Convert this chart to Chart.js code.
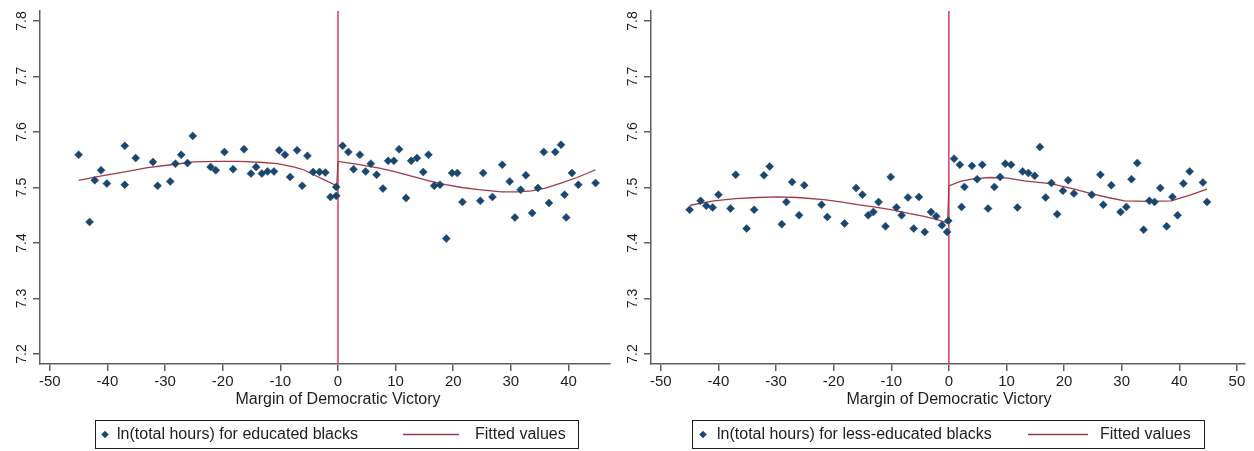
<!DOCTYPE html>
<html>
<head>
<meta charset="utf-8">
<script src="https://cdn.jsdelivr.net/npm/chart.js@4/dist/chart.umd.min.js"></script>
<style>
  html, body { margin: 0; padding: 0; background: #ffffff; }
  #wrap { position: relative; width: 1254px; height: 451px; background: #ffffff; }
  .panel { position: absolute; top: 0; width: 627px; height: 451px; }
</style>
</head>
<body>
<div id="wrap">
  <div class="panel" style="left:0px"><canvas id="c1"></canvas></div>
  <div class="panel" style="left:627px"><canvas id="c2"></canvas></div>
</div>
<script>
// ---------- DATA ----------
// Left panel: educated blacks (binned means)
const eduX = [-45.0,-43.1,-42.2,-41.1,-40.1,-37.0,-37.0,-35.1,-32.1,-31.3,-29.1,-28.2,-27.2,-26.1,-25.2,-22.1,-21.2,-19.7,-18.2,-16.3,-15.1,-14.2,-13.2,-12.2,-11.1,-10.2,-9.2,-8.3,-7.1,-6.2,-5.3,-4.3,-3.2,-2.2,-1.3,-0.3,-0.3,
  0.8,1.8,2.7,3.8,4.8,5.7,6.7,7.8,8.7,9.7,10.6,11.8,12.7,13.7,14.8,15.7,16.7,17.7,18.8,19.8,20.7,21.6,24.7,25.2,26.8,28.5,29.8,30.7,31.7,32.6,33.7,34.7,35.7,36.6,37.7,38.7,39.3,39.6,40.6,41.7,44.7];
const eduY = [7.559,7.438,7.513,7.531,7.507,7.575,7.505,7.553,7.546,7.503,7.511,7.543,7.559,7.544,7.593,7.537,7.531,7.564,7.533,7.569,7.525,7.537,7.525,7.529,7.529,7.567,7.559,7.519,7.567,7.503,7.557,7.528,7.528,7.527,7.483,7.485,7.501,
  7.575,7.564,7.533,7.559,7.529,7.543,7.523,7.498,7.548,7.548,7.569,7.481,7.548,7.553,7.528,7.559,7.503,7.505,7.408,7.526,7.526,7.474,7.476,7.526,7.483,7.541,7.511,7.446,7.496,7.522,7.454,7.499,7.564,7.472,7.564,7.577,7.487,7.446,7.526,7.505,7.508];
const eduFitX = [-45.0,-41,-37,-33,-29,-25,-21,-17,-13,-10.5,-7.7,-6,-4.2,-2,-0.2,0,3.2,7.2,10,12.9,15.8,18.7,21.5,24.4,28.4,31,33.6,36,38.7,41.5,44.7];
const eduFitY = [7.513,7.521,7.528,7.536,7.541,7.546,7.547,7.547,7.545,7.543,7.537,7.532,7.523,7.512,7.503,7.547,7.542,7.535,7.528,7.520,7.512,7.505,7.500,7.496,7.492,7.492,7.494,7.499,7.508,7.518,7.532];

// Right panel: less-educated blacks
const lessX = [-45.0,-43.1,-42.1,-41.0,-40.0,-37.9,-37.0,-35.1,-33.8,-32.1,-31.1,-29.0,-28.2,-27.2,-26.0,-25.1,-22.1,-21.1,-18.1,-16.1,-15.0,-14.0,-13.1,-12.2,-11.0,-10.1,-9.1,-8.2,-7.1,-6.1,-5.2,-4.2,-3.1,-2.2,-1.2,-0.3,-0.1,
  0.9,1.9,2.2,2.7,4.0,4.9,5.8,6.8,7.9,8.9,9.8,10.8,11.9,12.8,13.8,14.9,15.8,16.8,17.8,18.8,19.8,20.7,21.7,24.8,26.3,26.8,28.2,29.8,30.8,31.7,32.7,33.8,34.8,35.7,36.7,37.8,38.8,39.7,40.7,41.8,44.1,44.8];
const lessY = [7.460,7.476,7.467,7.464,7.487,7.462,7.523,7.426,7.460,7.522,7.538,7.434,7.474,7.510,7.450,7.504,7.469,7.447,7.435,7.499,7.487,7.450,7.456,7.474,7.430,7.519,7.464,7.450,7.482,7.426,7.483,7.420,7.456,7.448,7.432,7.420,7.440,
  7.552,7.541,7.465,7.501,7.539,7.515,7.541,7.462,7.501,7.519,7.543,7.541,7.464,7.529,7.526,7.521,7.573,7.482,7.508,7.452,7.494,7.513,7.489,7.487,7.523,7.469,7.504,7.456,7.465,7.515,7.544,7.424,7.476,7.474,7.499,7.430,7.483,7.450,7.507,7.529,7.509,7.474];
const lessFitX = [-44.9,-40.8,-37,-33.3,-29.8,-26.3,-21.7,-18.8,-15.9,-13,-10.1,-7.2,-4.3,-2,-0.2,0,2.0,4.4,7.3,10.2,13.1,17.7,21.8,24.7,27.6,30.5,34.6,38.6,42.1,44.8];
const lessFitY = [7.468,7.476,7.480,7.482,7.483,7.482,7.478,7.474,7.469,7.465,7.460,7.454,7.448,7.442,7.436,7.503,7.511,7.516,7.518,7.517,7.512,7.507,7.497,7.489,7.482,7.476,7.475,7.476,7.487,7.497];

const xTitle = 'Margin of Democratic Victory';
const eduLabel = 'ln(total hours) for educated blacks';
const lessLabel = 'ln(total hours) for less-educated blacks';
const fitLabel = 'Fitted values';

// ---------- STYLE ----------
const FONT = "'Liberation Sans', Arial, sans-serif";
const NAVY = '#1a476f';
const MAROON = '#a03a48';
const VLINE = '#d8486e';
const AXIS = '#5f5f5f';
const TEXT = '#1e1e1e';

function pairs(xs, ys) { return xs.map((x, i) => ({ x: x, y: ys[i] })); }

function makeChart(canvasId, cfg) {
  const extras = {
    id: 'extras' + canvasId,
    beforeDatasetsDraw(chart) {
      const { ctx, chartArea, scales } = chart;
      const px = scales.x.getPixelForValue(0);
      ctx.save();
      ctx.strokeStyle = VLINE;
      ctx.lineWidth = 1.6;
      ctx.beginPath();
      ctx.moveTo(px, chartArea.top);
      ctx.lineTo(px, chartArea.bottom);
      ctx.stroke();
      ctx.restore();
    },
    afterDraw(chart) {
      const { ctx, scales } = chart;
      const ys = scales.y;
      ctx.save();
      ctx.fillStyle = TEXT;
      ctx.font = '14px ' + FONT;
      ctx.textAlign = 'center';
      ctx.textBaseline = 'middle';
      ys.ticks.forEach(t => {
        const py = ys.getPixelForValue(t.value);
        ctx.save();
        ctx.translate(cfg.axisLeft - 18, py);
        ctx.rotate(-Math.PI / 2);
        ctx.fillText(t.value.toFixed(1), 0, 0);
        ctx.restore();
      });
      // x-axis title
      ctx.font = '16px ' + FONT;
      ctx.fillText(xTitle, cfg.titleX, 400);
      // legend box
      const lg = cfg.legend;
      ctx.strokeStyle = '#1e1e1e';
      ctx.lineWidth = 1;
      ctx.strokeRect(lg.boxL + 0.5, 420.5, lg.boxR - lg.boxL, 28);
      const cy = 434.5;
      ctx.fillStyle = NAVY;
      ctx.beginPath();
      ctx.moveTo(lg.diamond, cy - 3.8);
      ctx.lineTo(lg.diamond + 3.8, cy);
      ctx.lineTo(lg.diamond, cy + 3.8);
      ctx.lineTo(lg.diamond - 3.8, cy);
      ctx.closePath();
      ctx.fill();
      ctx.fillStyle = TEXT;
      ctx.font = '16px ' + FONT;
      ctx.textAlign = 'left';
      ctx.textBaseline = 'middle';
      ctx.fillText(lg.label1, lg.text1, cy);
      ctx.strokeStyle = MAROON;
      ctx.lineWidth = 1.4;
      ctx.beginPath();
      ctx.moveTo(lg.line1, cy);
      ctx.lineTo(lg.line2, cy);
      ctx.stroke();
      ctx.fillText(fitLabel, lg.text2, cy);
      ctx.restore();
    }
  };

  const gridOpts = { display: true, drawOnChartArea: false, drawTicks: true, tickLength: 7, color: AXIS, lineWidth: 1.5 };
  const borderOpts = { display: true, color: AXIS, width: 1.5 };

  return new Chart(document.getElementById(canvasId), {
    type: 'scatter',
    data: {
      datasets: [
        {
          label: cfg.legend.label1,
          data: pairs(cfg.px, cfg.py),
          pointStyle: 'rectRot',
          pointRadius: 4,
          pointHoverRadius: 4,
          backgroundColor: NAVY,
          borderColor: NAVY,
          borderWidth: 0.5,
          showLine: false,
          order: 1
        },
        {
          label: fitLabel,
          data: pairs(cfg.fx, cfg.fy),
          type: 'line',
          showLine: true,
          borderColor: MAROON,
          borderWidth: 1.3,
          pointRadius: 0,
          fill: false,
          tension: 0,
          order: 2
        }
      ]
    },
    options: {
      responsive: true,
      maintainAspectRatio: false,
      animation: false,
      events: [],
      layout: { padding: { left: 0, right: cfg.padRight, top: 11, bottom: 41 } },
      plugins: { legend: { display: false }, tooltip: { enabled: false } },
      scales: {
        x: {
          type: 'linear',
          min: cfg.xMin,
          max: cfg.xMax,
          afterFit: s => { s.height = 46; },
          ticks: { stepSize: 10, includeBounds: false, autoSkip: false, maxRotation: 0, minRotation: 0,
                   font: { family: FONT, size: 15 }, color: TEXT, padding: 2 },
          grid: gridOpts,
          border: borderOpts,
          title: { display: false }
        },
        y: {
          type: 'linear',
          min: 7.182,
          max: 7.818,
          afterFit: s => { s.width = cfg.axisLeft; },
          ticks: { stepSize: 0.1, includeBounds: false, display: false },
          grid: gridOpts,
          border: borderOpts
        }
      }
    },
    plugins: [extras]
  });
}

makeChart('c1', {
  px: eduX, py: eduY, fx: eduFitX, fy: eduFitY,
  xMin: -51.7, xMax: 47.2, axisLeft: 40, padRight: 17, titleX: 338,
  legend: { boxL: 95, boxR: 578, diamond: 105, text1: 117, label1: eduLabel, line1: 403, line2: 459, text2: 475 }
});
makeChart('c2', {
  px: lessX, py: lessY, fx: lessFitX, fy: lessFitY,
  xMin: -51.7, xMax: 51.4, axisLeft: 24, padRight: 9, titleX: 322,
  legend: { boxL: 65, boxR: 577, diamond: 76, text1: 90, label1: lessLabel, line1: 401, line2: 461, text2: 473 }
});
</script>
</body>
</html>
